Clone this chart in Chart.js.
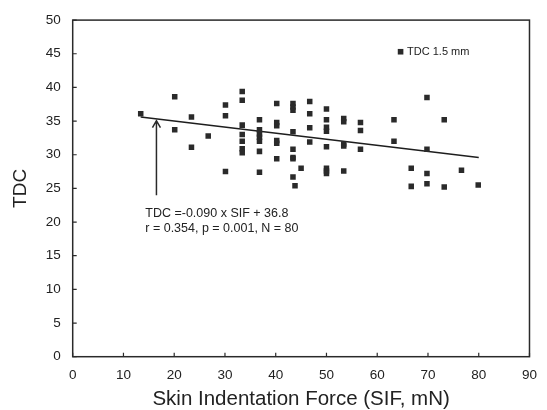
<!DOCTYPE html>
<html>
<head>
<meta charset="utf-8">
<script src="https://cdn.jsdelivr.net/npm/chart.js@4/dist/chart.umd.min.js"></script>
<style>
  html, body { margin: 0; padding: 0; background: #fff; }
  #wrap { width: 547px; height: 410px; }
</style>
</head>
<body>
<div id="wrap"><canvas id="tdcChart"></canvas></div>
<script>
// values
const sifValues = [
    13.4, 20.1, 20.1, 23.4, 23.4, 26.7, 30.1, 30.1, 30.1,
    33.4, 33.4, 33.4, 33.4, 33.4, 33.4, 33.4,
    36.8, 36.8, 36.8, 36.8, 36.8, 36.8, 36.8,
    40.2, 40.2, 40.2, 40.2, 40.2, 40.2,
    43.4, 43.4, 43.4, 43.4, 43.4, 43.4, 43.4, 43.4, 43.8, 45.0,
    46.7, 46.7, 46.7, 46.7,
    50.0, 50.0, 50.0, 50.0, 50.0, 50.0, 50.0, 50.0,
    53.4, 53.4, 53.4, 53.4, 53.4,
    56.7, 56.7, 56.7,
    63.3, 63.3, 66.7, 66.7,
    69.8, 69.8, 69.8, 69.8, 73.2, 73.2, 76.6, 79.9
];
const tdcValues = [
    36.1, 38.6, 33.7, 35.6, 31.1, 32.8, 37.4, 35.8, 27.5,
    39.4, 38.1, 34.4, 33.0, 32.0, 30.9, 30.3,
    35.2, 33.7, 33.1, 32.6, 32.0, 30.5, 27.4,
    37.6, 34.8, 34.3, 32.1, 31.7, 29.4,
    37.6, 37.1, 36.6, 33.4, 30.8, 29.6, 29.4, 26.7, 25.4, 28.0,
    37.9, 36.1, 34.0, 31.9,
    36.8, 35.2, 34.1, 33.5, 31.2, 28.0, 27.6, 27.2,
    35.4, 34.9, 31.6, 31.3, 27.6,
    34.8, 33.6, 30.8,
    35.2, 32.0, 28.0, 25.3,
    38.5, 30.8, 27.2, 25.7, 35.2, 25.2, 27.7, 25.5
];

// regression line ends (as drawn)
const fitSif = [13.4, 80.0];
const fitTdc = [35.6, 29.6];

// arrow (bottom -> tip) and annotation
const arrowSif = [16.5, 16.5];
const arrowTdc = [24.0, 35.05];
const noteLines = ['TDC =-0.090 x SIF + 36.8', 'r = 0.354, p = 0.001, N = 80'];
const notePos = [14.3, 21.2, 19.1];

const legendLabel = 'TDC 1.5 mm';
const legendPos = [64.6, 45.3];

const xTitle = 'Skin Indentation Force (SIF, mN)';
const yTitle = 'TDC';

const ink = '#2a2a2a';
const fontName = "'Liberation Sans', Arial, sans-serif";

const points = sifValues.map((x, i) => ({ x, y: tdcValues[i] }));
const fitLine = fitSif.map((x, i) => ({ x, y: fitTdc[i] }));

// frame, inward ticks, arrow, annotation and legend
const extrasPlugin = {
    id: 'extras',
    afterDraw(chart) {
        const ctx = chart.ctx;
        const area = chart.chartArea;
        const xs = chart.scales.x, ys = chart.scales.y;
        ctx.save();
        ctx.strokeStyle = ink;
        ctx.lineWidth = 1.5;
        ctx.strokeRect(area.left, area.top, area.right - area.left, area.bottom - area.top);

        ctx.lineWidth = 1.2;
        ctx.beginPath();
        xs.ticks.forEach(t => {
            const px = xs.getPixelForValue(t.value);
            ctx.moveTo(px, area.bottom);
            ctx.lineTo(px, area.bottom - 4);
        });
        ys.ticks.forEach(t => {
            const py = ys.getPixelForValue(t.value);
            ctx.moveTo(area.left, py);
            ctx.lineTo(area.left + 4, py);
        });
        ctx.stroke();

        // arrow
        const ax0 = xs.getPixelForValue(arrowSif[0]);
        const ay0 = ys.getPixelForValue(arrowTdc[0]);
        const ax1 = xs.getPixelForValue(arrowSif[1]);
        const ay1 = ys.getPixelForValue(arrowTdc[1]);
        ctx.lineWidth = 1.5;
        ctx.beginPath();
        ctx.moveTo(ax0, ay0);
        ctx.lineTo(ax1, ay1);
        ctx.moveTo(ax1 - 4, ay1 + 7);
        ctx.lineTo(ax1, ay1);
        ctx.lineTo(ax1 + 4, ay1 + 7);
        ctx.stroke();

        // annotation text
        ctx.fillStyle = '#222';
        ctx.font = '12.5px ' + fontName;
        ctx.textAlign = 'left';
        ctx.textBaseline = 'middle';
        const nx = xs.getPixelForValue(notePos[0]);
        ctx.fillText(noteLines[0], nx, ys.getPixelForValue(notePos[1]));
        ctx.fillText(noteLines[1], nx, ys.getPixelForValue(notePos[2]));

        // legend
        const lx = xs.getPixelForValue(legendPos[0]);
        const ly = ys.getPixelForValue(legendPos[1]);
        ctx.fillStyle = ink;
        ctx.fillRect(lx - 2.8, ly - 2.8, 5.6, 5.6);
        ctx.fillStyle = '#222';
        ctx.font = '11px ' + fontName;
        ctx.fillText(legendLabel, lx + 6.5, ly);
        ctx.restore();
    }
};

const ctx = document.getElementById('tdcChart').getContext('2d');
new Chart(ctx, {
    type: 'scatter',
    data: {
        datasets: [
            {
                label: legendLabel,
                data: points,
                pointStyle: 'rect',
                pointRadius: 3.9,
                pointBorderWidth: 0,
                backgroundColor: ink,
                borderColor: ink
            },
            {
                label: 'fit',
                type: 'line',
                data: fitLine,
                borderColor: '#1e1e1e',
                borderWidth: 1.6,
                pointRadius: 0,
                fill: false
            }
        ]
    },
    options: {
        responsive: true,
        maintainAspectRatio: false,
        animation: false,
        layout: { padding: { top: 20, right: 8, left: 0, bottom: 0 } },
        plugins: {
            legend: { display: false },
            tooltip: { enabled: false }
        },
        scales: {
            x: {
                type: 'linear',
                min: 0,
                max: 90,
                ticks: { stepSize: 10, padding: 10, color: '#222', font: { family: fontName, size: 13.5 } },
                grid: { display: false, drawTicks: false },
                border: { display: false },
                title: {
                    display: true,
                    text: xTitle,
                    color: '#222',
                    font: { family: fontName, size: 20.5 },
                    padding: { top: 0, bottom: -2 }
                },
                afterFit(scale) { scale.height = 53.3; }
            },
            y: {
                min: 0,
                max: 50,
                ticks: { stepSize: 5, padding: 12, color: '#222', font: { family: fontName, size: 13.5 } },
                grid: { display: false, drawTicks: false },
                border: { display: false },
                title: {
                    display: true,
                    text: yTitle,
                    color: '#222',
                    font: { family: fontName, size: 19 },
                    padding: { top: 9, bottom: 0 }
                },
                afterFit(scale) { scale.width = 72.7; }
            }
        }
    },
    plugins: [extrasPlugin]
});
</script>
</body>
</html>
